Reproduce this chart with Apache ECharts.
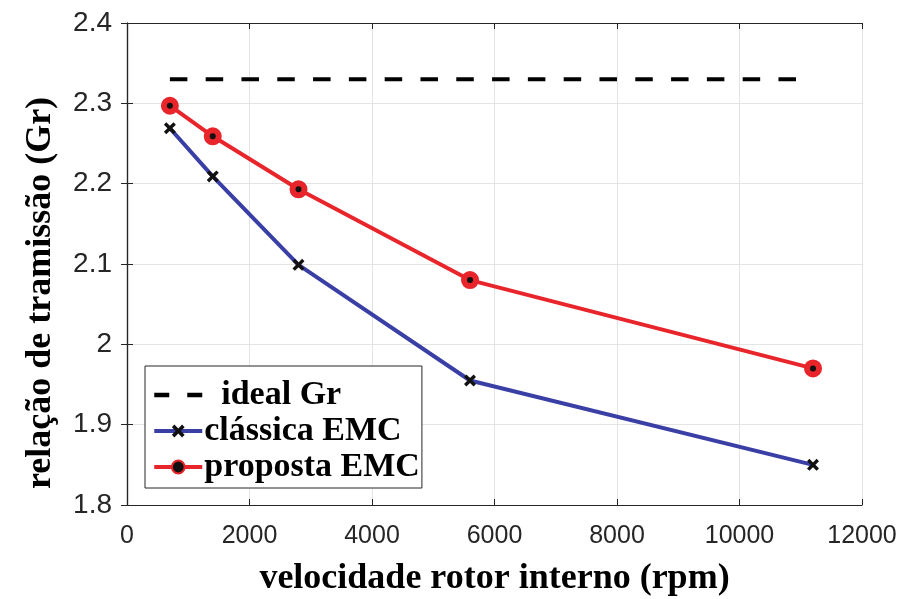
<!DOCTYPE html>
<html>
<head>
<meta charset="utf-8">
<script src="https://cdn.jsdelivr.net/npm/echarts@6/dist/echarts.min.js"></script>
<style>
  html, body { margin: 0; padding: 0; background: #fff; }
  #chart { width: 915px; height: 599px; }
</style>
</head>
<body>
<div id="chart"></div>
<script>
// Data
const speedRpm = [700, 1400, 2800, 5600, 11200];
const classicaGr = [2.269, 2.209, 2.099, 1.955, 1.850];
const propostaGr = [2.297, 2.259, 2.193, 2.080, 1.970];
const idealX = [700, 11200];
const idealGr = [2.33, 2.33];

const SERIF = "'Liberation Serif', 'DejaVu Serif', serif";
const SANS = "'Liberation Sans', Arial, sans-serif";
const BLUE = "#3a3fa6";
const RED = "#e8252b";

const pairs = (xs, ys) => xs.map((x, i) => [x, ys[i]]);

// filled "x" marker
const CROSS = "path://M2,0L5,3L8,0L10,2L7,5L10,8L8,10L5,7L2,10L0,8L3,5L0,2Z";

const axisLine = { show: true, lineStyle: { color: "#262626", width: 1.2 } };
const axisTick = { show: true, inside: true, length: 6, lineStyle: { color: "#262626" } };
const gridLine = { show: true, lineStyle: { color: "#e4e4e4", width: 1 } };
const nameStyle = { fontFamily: SERIF, fontWeight: "bold", fontSize: 36, color: "#000" };

const chart = echarts.init(document.getElementById("chart"), null, { renderer: "canvas" });

chart.setOption({
  animation: false,
  backgroundColor: "#fff",
  grid: { left: 127, right: 53, top: 23, bottom: 94, outerBoundsMode: "none", containLabel: false },
  legend: {
    orient: "vertical",
    left: 145,
    top: 366,
    padding: [12, 2, 4, 7],
    itemGap: 2,
    itemWidth: 48,
    itemHeight: 16,
    backgroundColor: "#fff",
    borderColor: "#262626",
    borderWidth: 1,
    borderRadius: 0,
    textStyle: { fontFamily: SERIF, fontWeight: "bold", fontSize: 34, color: "#000", padding: [0, 0, 0, -3] },
    formatter: (name) => (name === "ideal Gr" ? "  " + name : name),
    data: [
      { name: "ideal Gr", itemStyle: { opacity: 0 }, lineStyle: { width: 4.5, type: [15, 18] } },
      { name: "clássica EMC", lineStyle: { width: 4 } },
      { name: "proposta EMC", lineStyle: { width: 4 } },
    ],
  },
  xAxis: [
    {
      type: "value",
      min: 0,
      max: 12000,
      interval: 2000,
      name: "velocidade rotor interno (rpm)",
      nameLocation: "middle",
      nameGap: 56,
      nameTextStyle: nameStyle,
      axisLine,
      axisTick,
      axisLabel: { fontFamily: SANS, fontSize: 25, color: "#262626", margin: 19, formatter: (v) => String(v) },
      splitLine: gridLine,
    },
    {
      type: "value",
      position: "top",
      min: 0,
      max: 12000,
      interval: 2000,
      axisLine,
      axisTick,
      axisLabel: { show: false },
      splitLine: { show: false },
    },
  ],
  yAxis: [
    {
      type: "value",
      min: 1.8,
      max: 2.4,
      interval: 0.1,
      name: "relação de tramissão (Gr)",
      nameLocation: "middle",
      nameGap: 68,
      nameTextStyle: { ...nameStyle, padding: [0, 58, 0, 0] },
      axisLine,
      axisTick,
      axisLabel: {
        fontFamily: SANS,
        fontSize: 28,
        color: "#262626",
        margin: 15,
        formatter: (v) => String(+v.toFixed(1)),
      },
      splitLine: gridLine,
    },
    {
      type: "value",
      position: "right",
      min: 1.8,
      max: 2.4,
      interval: 0.1,
      axisLine,
      axisTick,
      axisLabel: { show: false },
      splitLine: { show: false },
    },
  ],
  series: [
    {
      name: "ideal Gr",
      type: "line",
      data: pairs(idealX, idealGr),
      symbol: "none",
      lineStyle: { color: "#000", width: 4, type: [17.5, 18.3] },
      itemStyle: { color: "#000" },
    },
    {
      name: "clássica EMC",
      type: "line",
      data: pairs(speedRpm, classicaGr),
      symbol: CROSS,
      symbolSize: 12,
      lineStyle: { color: BLUE, width: 4 },
      itemStyle: { color: "#111" },
      z: 3,
    },
    {
      name: "proposta EMC",
      type: "line",
      data: pairs(speedRpm, propostaGr),
      symbol: "circle",
      symbolSize: 12,
      lineStyle: { color: RED, width: 4 },
      itemStyle: { color: "#111", borderColor: RED, borderWidth: 6 },
      z: 4,
    },
  ],
});
</script>
</body>
</html>
